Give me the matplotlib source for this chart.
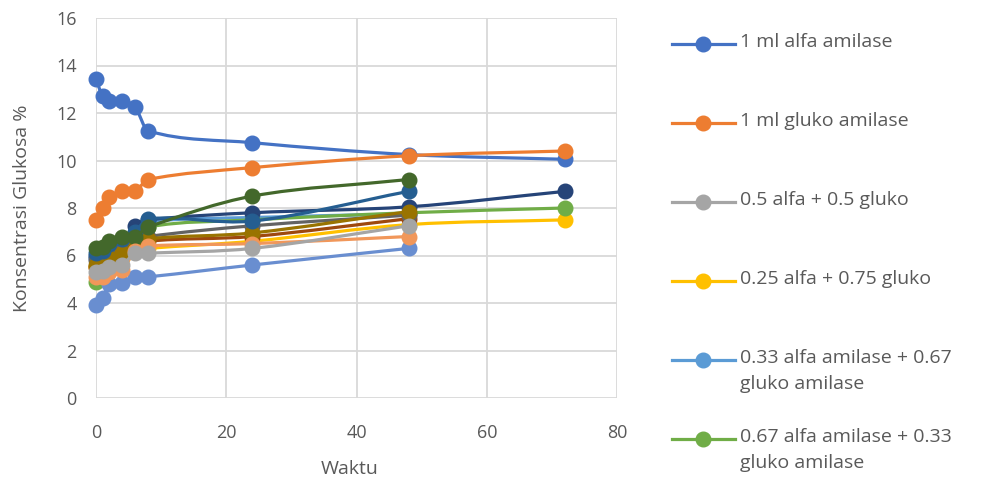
import numpy as np
import matplotlib.pyplot as plt
from matplotlib.path import Path
from matplotlib.patches import PathPatch
from matplotlib.lines import Line2D

plt.rcParams['font.family'] = ['Open Sans', 'DejaVu Sans']

# sampling times (jam)
waktu = [0, 1, 2, 4, 6, 8, 24, 48, 72]

# glucose concentration (%) per treatment / run
alfa_1ml = [13.45, 12.7, 12.5, 12.5, 12.25, 11.25, 10.75, 10.25, 10.05]
gluko_1ml = [7.5, 8.0, 8.45, 8.7, 8.7, 9.2, 9.7, 10.2, 10.4]
alfa05_gluko05 = [5.3, 5.35, 5.5, 5.6, 6.1, 6.1, 6.3, 7.25]
alfa025_gluko075 = [5.5, 5.6, 5.7, 5.9, 6.2, 6.3, 6.6, 7.3, 7.5]
alfa033_gluko067 = [5.9, 6.0, 6.3, 6.6, 6.9, 7.4, 7.6, 7.75]
alfa067_gluko033 = [4.9, 5.3, 5.8, 6.2, 6.6, 7.2, 7.5, 7.8, 8.0]
ulangan_7 = [6.0, 6.1, 6.3, 6.5, 7.25, 7.5, 7.8, 8.05, 8.7]
ulangan_8 = [5.5, 5.6, 5.8, 6.0, 6.3, 6.6, 6.8, 7.55]
ulangan_9 = [5.8, 5.9, 6.1, 6.3, 6.6, 6.8, 7.25, 7.7]
ulangan_10 = [5.6, 5.7, 5.9, 6.1, 6.4, 6.7, 6.95, 7.85]
ulangan_11 = [6.1, 6.2, 6.5, 6.7, 7.0, 7.55, 7.45, 8.7]
ulangan_12 = [6.3, 6.35, 6.6, 6.8, 6.8, 7.2, 8.5, 9.2]
ulangan_13 = [3.9, 4.2, 4.8, 4.85, 5.1, 5.1, 5.6, 6.3]
ulangan_14 = [5.1, 5.1, 5.3, 5.4, 6.2, 6.4, 6.5, 6.8]

legend_labels = [
    "1 ml alfa amilase",
    "1 ml gluko amilase",
    "0.5 alfa + 0.5 gluko",
    "0.25 alfa + 0.75 gluko",
    "0.33 alfa amilase + 0.67\ngluko amilase",
    "0.67 alfa amilase + 0.33\ngluko amilase",
]

# (values, colour, draw order)
series = [
    (alfa_1ml, "#4472C4", 1),
    (gluko_1ml, "#ED7D31", 2),
    (alfa05_gluko05, "#A5A5A5", 20),
    (alfa025_gluko075, "#FFC000", 4),
    (alfa033_gluko067, "#5B9BD5", 5),
    (alfa067_gluko033, "#70AD47", 6),
    (ulangan_7, "#264478", 7),
    (ulangan_8, "#9E480E", 8),
    (ulangan_9, "#636363", 9),
    (ulangan_10, "#997300", 10),
    (ulangan_11, "#255E91", 11),
    (ulangan_12, "#43682B", 12),
    (ulangan_13, "#698ED0", 13),
    (ulangan_14, "#F1975A", 14),
]


def smooth_path(x, y):
    # cubic Hermite segments, like Excel's "smoothed line"
    x = np.asarray(x, float)
    y = np.asarray(y, float)
    n = len(x)
    m = np.zeros(n)
    for i in range(n):
        a = max(i - 1, 0)
        b = min(i + 1, n - 1)
        m[i] = (y[b] - y[a]) / (x[b] - x[a])
    verts = [(x[0], y[0])]
    codes = [Path.MOVETO]
    for i in range(n - 1):
        h = x[i + 1] - x[i]
        verts += [(x[i] + h / 3, y[i] + m[i] * h / 3),
                  (x[i + 1] - h / 3, y[i + 1] - m[i + 1] * h / 3),
                  (x[i + 1], y[i + 1])]
        codes += [Path.CURVE4] * 3
    return Path(verts, codes)


fig = plt.figure(figsize=(9.82, 4.88), dpi=100)
ax = fig.add_axes([96 / 982, 90 / 488, 521 / 982, 380 / 488])

for vals, color, z in series:
    t = waktu[:len(vals)]
    ax.add_patch(PathPatch(smooth_path(t, vals), fill=False, edgecolor=color,
                           lw=2.3, zorder=2 + z * 0.01, clip_on=False))
    ax.plot(t, vals, "o", color=color, markersize=10.5, zorder=2 + z * 0.01 + 0.005,
            clip_on=False)

ax.set_xlim(0, 80)
ax.set_ylim(0, 16)
ax.set_xticks(range(0, 81, 20))
ax.set_yticks(range(0, 17, 2))
ax.grid(True, color="#D9D9D9", lw=1.3)
ax.set_axisbelow(True)
for s in ax.spines.values():
    s.set_visible(False)
ax.tick_params(length=0, labelsize=13, colors="#595959")
ax.tick_params(axis="x", pad=19)
ax.tick_params(axis="y", pad=14)

ax.set_xlabel("Waktu", fontsize=14, color="#595959")
ax.set_ylabel("Konsentrasi Glukosa %", fontsize=14, color="#595959")
ax.xaxis.set_label_coords(0.486, -0.163)
ax.yaxis.set_label_coords(-0.125, 0.5)

# legend on the right, one row per treatment
for i, label in enumerate(legend_labels):
    color = series[i][1]
    yc = 1 - (44 + 79 * i) / 488
    fig.add_artist(Line2D([672 / 982, 735 / 982], [yc, yc], color=color, lw=2.3,
                          transform=fig.transFigure))
    fig.add_artist(Line2D([703 / 982], [yc], marker="o", color=color, markersize=10.5,
                          transform=fig.transFigure))
    fig.text(740 / 982, yc + 11 / 488, label, fontsize=14, color="#595959",
             va="top", ha="left", linespacing=1.6)

fig.savefig("out.png", dpi=100)
